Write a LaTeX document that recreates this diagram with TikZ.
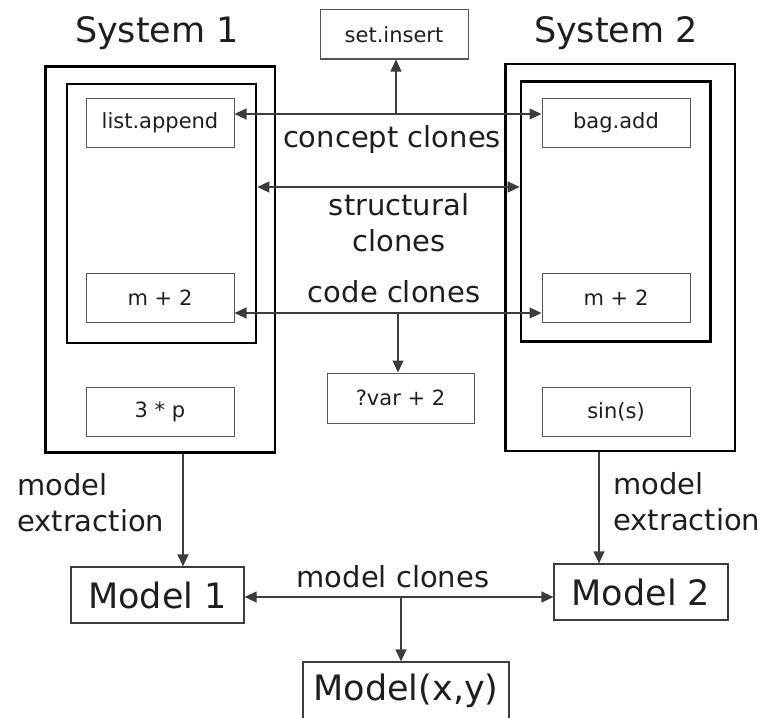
\documentclass[tikz,border=0pt]{standalone}
\usepackage{fontspec}
\setmainfont{DejaVu Sans}
\usepackage{tikz}
\usetikzlibrary{shapes,arrows.meta,positioning}
\definecolor{boxgray}{HTML}{555555}
\definecolor{linegray}{HTML}{3C3C3C}
\definecolor{ink}{HTML}{1E1E1E}
\tikzstyle{sysbox} = [rectangle, draw=black, line width=2.6pt, inner sep=0pt]
\tikzstyle{codebox} = [rectangle, draw=boxgray, line width=1pt, minimum width=148pt, minimum height=49pt, inner sep=0pt, text=ink, font=\fontsize{21}{25}\selectfont]
\tikzstyle{modelbox} = [rectangle, draw=linegray, line width=1.2pt, minimum height=56pt, inner sep=0pt, text=ink, font=\fontsize{35}{42}\selectfont]
\tikzstyle{title} = [anchor=base, inner sep=0pt, text=ink, font=\fontsize{35}{42}\selectfont]
\tikzstyle{tag} = [inner sep=0pt, text=ink, font=\fontsize{29}{36}\selectfont]
\tikzstyle{line} = [draw=linegray, line width=1.2pt]
\tikzstyle{arr} = [line, -{Triangle[length=12pt,width=11pt]}]
\tikzstyle{biarr} = [line, {Triangle[length=12pt,width=11pt]}-{Triangle[length=12pt,width=11pt]}]

\begin{document}
\begin{tikzpicture}[x=1pt, y=-1pt]
			\useasboundingbox (0, 0) rectangle (762, 717);

			% the two systems
			\node [title] (t1) at (157, 43) {System 1};
			\node [title] (t2) at (616, 43) {System 2};
			\node [sysbox, minimum width=229.5pt, minimum height=386pt] (sys1) at (160.25, 259.5) {};
			\node [sysbox, minimum width=189pt, minimum height=259pt] (in1) at (161.5, 213.5) {};
			\node [sysbox, minimum width=229.5pt, minimum height=387pt] (sys2) at (620.25, 257.5) {};
			\node [sysbox, minimum width=189.5pt, minimum height=260pt] (in2) at (615.75, 211.5) {};

			\node [codebox] (app) at (160, 122.5) {list.append};
			\node [codebox] (add) at (616, 122.5) {bag.add};
			\node [codebox] (m1) at (160, 298) {m + 2};
			\node [codebox] (m2) at (616, 298) {m + 2};
			\node [codebox] (p1) at (160, 412) {3 * p};
			\node [codebox] (s2) at (616, 412) {sin(s)};
			\node [codebox] (ins) at (394, 34.5) {set.insert};
			\node [codebox, minimum width=147pt, minimum height=50pt] (var) at (400.5, 398) {?var + 2};

			% models
			\node [modelbox, minimum width=173pt] (mod1) at (157.5, 595) {Model 1};
			\node [modelbox, minimum width=174pt] (mod2) at (641, 592) {Model 2};
			\node [modelbox, minimum width=206pt, minimum height=58pt] (mxy) at (406, 691) {Model(x,y)};

			% clone relations
			\coordinate (cc) at (396, 114);
			\coordinate (sc) at (390, 187);
			\coordinate (kc) at (398, 313);
			\coordinate (mc) at (401, 597);
			\coordinate (x1) at (183, 0);
			\coordinate (x2) at (599, 0);

			\path [biarr] (app.east |- cc) -- (add.west |- cc);
			\path [arr] (cc) -- (cc |- ins.south);
			\path [biarr] (in1.east |- sc) -- (in2.west |- sc);
			\path [biarr] (m1.east |- kc) -- (m2.west |- kc);
			\path [arr] (kc) -- (kc |- var.north);
			\path [arr] (sys1.south -| x1) -- (mod1.north -| x1);
			\path [arr] (sys2.south -| x2) -- (mod2.north -| x2);
			\path [biarr] (mod1.east |- mc) -- (mod2.west |- mc);
			\path [arr] (mc) -- (mc |- mxy.north);

			\node [tag, anchor=base] (lcc) at (392, 147) {concept clones};
			\node [tag, anchor=base, align=center] (lsc) at (399, 251) {structural\\clones};
			\node [tag, anchor=base] (lkc) at (394, 302) {code clones};
			\node [tag, anchor=base] (lmc) at (393, 587) {model clones};
			\node [tag, anchor=base west, align=left] (lme1) at (17, 531) {model\\extraction};
			\node [tag, anchor=base west, align=left] (lme2) at (613, 530) {model\\extraction};
		\end{tikzpicture}
\end{document}
